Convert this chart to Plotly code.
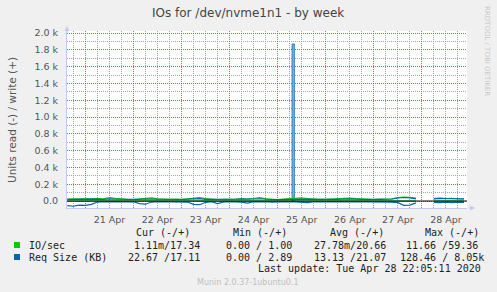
import numpy as np
import pandas as pd
import plotly.graph_objects as go

# ---------------- data (3-hourly samples, Apr 20 15:00 .. Apr 28 21:00) ----------------
start_time = "2020-04-20 15:00"
n_samples = 67
times = pd.date_range(start_time, periods=n_samples, freq="3h")

io_write = [22, 25, 24,
            28, 35, 30, 26, 40, 32, 22, 20,
            18, 22, 30, 38, 25, 20, 19, 24,
            20, 26, 35, 42, 28, 22, 18, 20,
            19, 24, 28, 22, 30, 40, 26, 21,
            18, 22, 25, 27, 38, 30, 22, 19,
            20, 24, 22, 30, 35, 28, 24, 20,
            18, 22, 24, 26, 40, 48, 45, 35,
            None, None, 25, 30, 28, 32, 26, 24]

io_read = [0.1, 0.0, 0.1,
           0.0, 0.1, 0.0, 0.0, 0.1, 0.0, 0.0, 0.0,
           0.0, 0.1, 0.0, 0.0, 0.0, 0.1, 0.0, 0.0,
           0.0, 0.0, 0.1, 0.0, 0.0, 0.0, 0.0, 0.1,
           0.0, 0.0, 0.0, 0.1, 0.0, 0.0, 0.0, 0.0,
           0.0, 0.1, 0.0, 0.0, 0.0, 0.0, 0.1, 0.0,
           0.0, 0.0, 0.0, 0.0, 0.1, 0.0, 0.0, 0.0,
           0.0, 0.0, 0.1, 0.0, 0.0, 0.1, 0.0, 0.0,
           None, None, 0.0, 0.0, 0.1, 0.0, 0.0, 0.0]

req_write = [20, 22, 18,
             24, 20, 22, 18, 26, 21, 19, 17,
             16, 20, 24, 22, 19, 18, 17, 21,
             18, 22, 25, 28, 20, 19, 17, 18,
             17, 21, 23, 19, 24, 27, 20, 18,
             17, 19, 21, 22, 26, 23, 19, 18,
             18, 20, 19, 24, 26, 22, 20, 18,
             17, 19, 21, 24, 36, 42, 38, 26,
             None, None, 28, 34, 30, 32, 27, 25]

req_read = [55, 62, 48,
            52, 40, 12, 8, 10, 6, 14, 9,
            7, 30, 38, 12, 8, 10, 6, 9,
            8, 12, 40, 44, 15, 8, 30, 10,
            7, 9, 14, 25, 8, 10, 6, 12,
            9, 11, 8, 10, 14, 20, 9, 7,
            8, 10, 7, 9, 12, 8, 10, 9,
            8, 10, 9, 12, 20, 52, 48, 22,
            None, None, 15, 20, 12, 18, 14, 16]

spike_time = ["2020-04-25 07:45"]
spike_value = [1870]

y_tickvals = [0, 200, 400, 600, 800, 1000, 1200, 1400, 1600, 1800, 2000]
y_ticktext = ["0.0", "0.2 k", "0.4 k", "0.6 k", "0.8 k", "1.0 k",
              "1.2 k", "1.4 k", "1.6 k", "1.8 k", "2.0 k"]

legend_header = ["Cur (-/+)", "Min (-/+)", "Avg (-/+)", "Max (-/+)"]
legend_names = ["IO/sec", "Req Size (KB)"]
legend_values = [["1.11m/17.34", "0.00 / 1.00", "27.78m/20.66", "11.66 /59.36"],
                 ["22.67 /17.11", "0.00 / 2.89", "13.13 /21.07", "128.46 / 8.05k"]]

# ---------------- styles ----------------
GREEN = "#00cc00"
BLUE = "#0066b3"
W, H = 497, 292
L, R, T, B = 67, 30, 31, 84
PW, PH = W - L - R, H - T - B


def px(x):
    return (x - L) / PW


def py(y):
    return (H - B - y) / PH


def arr(v, sign=1.0):
    return sign * np.array(v, dtype=float)


fig = go.Figure()
fig.add_trace(go.Scatter(x=times, y=arr(io_read, -1), mode="lines",
                         line=dict(color=GREEN, width=1.2)))
fig.add_trace(go.Scatter(x=times, y=arr(io_write), mode="lines",
                         line=dict(color=GREEN, width=1.2)))
fig.add_trace(go.Scatter(x=times, y=arr(req_read, -1), mode="lines",
                         line=dict(color=BLUE, width=1.2)))
fig.add_trace(go.Scatter(x=times, y=arr(req_write), mode="lines",
                         line=dict(color=BLUE, width=1.2)))
fig.add_trace(go.Bar(x=pd.to_datetime(spike_time), y=spike_value,
                     width=[1.2 * 3600 * 1000],
                     marker=dict(color="#7fb0dc", line=dict(color=BLUE, width=0.7))))

MAJ = "rgba(220,70,70,0.85)"
MIN = "rgba(150,150,150,0.85)"
DASH = "1px,1px"
AXC = "#c8c8f4"
TICKF = dict(family="DejaVu Sans", size=9.5, color="#555555")

fig.update_xaxes(
    type="date",
    range=["2020-04-20 14:50", "2020-04-28 22:30"],
    dtick=86400000, tick0="2020-04-21 00:00",
    tickformat="%d %b", ticklabelmode="period",
    ticks="", showgrid=True, gridcolor=MAJ, griddash=DASH, gridwidth=1,
    minor=dict(dtick=6 * 3600 * 1000, tick0="2020-04-21 00:00", showgrid=True,
               gridcolor=MIN, griddash=DASH, gridwidth=1),
    showline=True, linecolor=AXC, linewidth=1,
    zeroline=False, tickfont=TICKF, ticklabelstandoff=3,
)
fig.update_yaxes(
    range=[-83, 2024],
    tickvals=y_tickvals, ticktext=y_ticktext,
    ticks="", showgrid=True, gridcolor=MAJ, griddash=DASH, gridwidth=1,
    minor=dict(dtick=100, tick0=0, showgrid=True, gridcolor=MIN,
               griddash=DASH, gridwidth=1),
    showline=True, linecolor=AXC, linewidth=1,
    zeroline=False, tickfont=TICKF, ticklabelstandoff=6,
)

shapes = [
    # black zero rule
    dict(type="line", xref="paper", yref="y", x0=0, x1=1, y0=0, y1=0,
         line=dict(color="black", width=1), layer="above"),
]
for i, col in enumerate([GREEN, BLUE]):
    yc = 245 + 12 * i
    shapes.append(dict(type="rect", xref="paper", yref="paper",
                       x0=px(14), x1=px(20), y0=py(yc + 3), y1=py(yc - 3),
                       fillcolor=col, line=dict(width=0)))

MONO = dict(family="DejaVu Sans Mono", size=10, color="#222222")
ann = []


def text(x, y, s, font, xanchor="left", angle=0):
    ann.append(dict(xref="paper", yref="paper", x=px(x), y=py(y), text=s,
                    showarrow=False, xanchor=xanchor, yanchor="middle",
                    font=font, textangle=angle))


text(248, 13, "IOs for /dev/nvme1n1 - by week",
     dict(family="DejaVu Sans", size=12, color="#444444"), "center")
text(12, 120, "Units read (-) / write (+)",
     dict(family="DejaVu Sans", size=10.5, color="#555555"), "center", -90)
text(487, 51, "RRDTOOL / TOBI OETIKER",
     dict(family="DejaVu Sans", size=7, color="#c8c8c8"), "center", 90)

for s, x in zip(legend_header, [134.3, 230.7, 327.7, 422.7]):
    text(x, 232, s, MONO)
for i, name in enumerate(legend_names):
    yc = 245 + 12 * i
    text(26.7, yc, name, MONO)
value_starts = [[131.7, 224, 311.7, 404.3], [125.7, 224, 311.7, 398.3]]
for i in range(2):
    yc = 245 + 12 * i
    for s, x in zip(legend_values[i], value_starts[i]):
        text(x, yc, s, MONO)
text(483, 268.5, "Last update: Tue Apr 28 22:05:11 2020", MONO, "right")
text(248, 282, "Munin 2.0.37-1ubuntu0.1",
     dict(family="DejaVu Sans", size=8, color="#c0c0c0"), "center")

# axis arrow heads
ann.append(dict(xref="paper", yref="paper", x=px(475), y=0, ax=-8, ay=0,
                text="", showarrow=True, arrowhead=2, arrowsize=1,
                arrowwidth=1, arrowcolor=AXC))
ann.append(dict(xref="paper", yref="paper", x=0, y=py(26), ax=0, ay=8,
                text="", showarrow=True, arrowhead=2, arrowsize=1,
                arrowwidth=1, arrowcolor=AXC))

fig.update_layout(
    width=W, height=H, autosize=False,
    margin=dict(l=L, r=R, t=T, b=B, pad=0),
    paper_bgcolor="#f0f0f0", plot_bgcolor="white",
    showlegend=False, shapes=shapes, annotations=ann,
    font=dict(family="DejaVu Sans"),
)

fig.write_html("out.html")
